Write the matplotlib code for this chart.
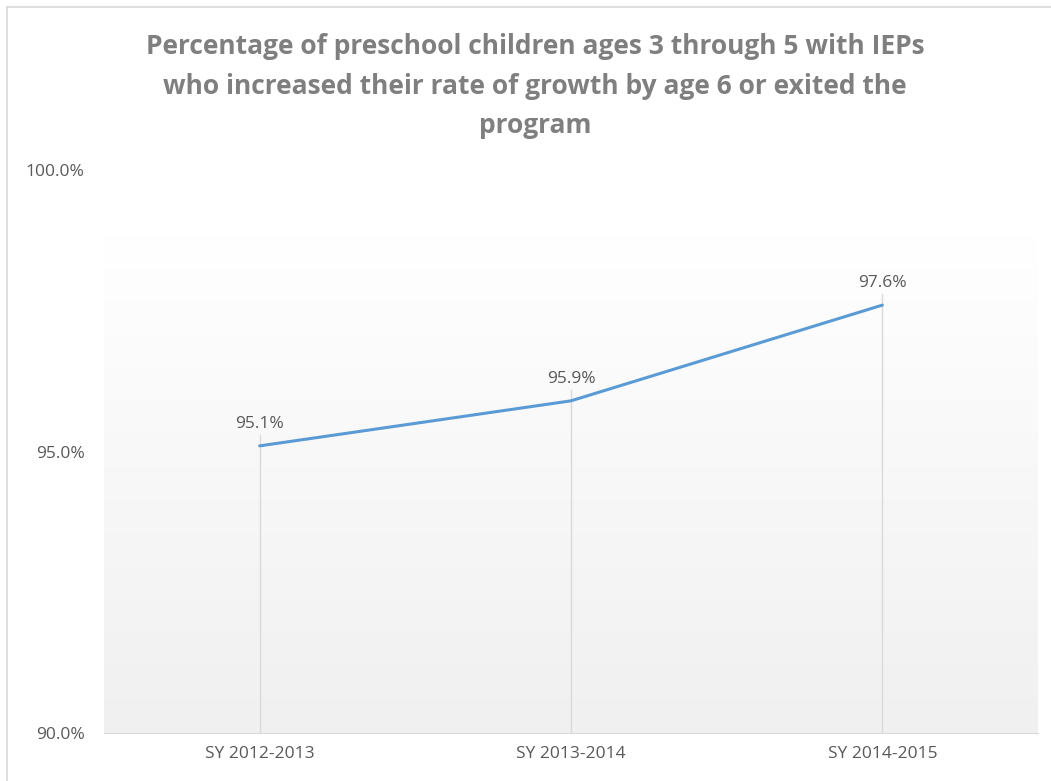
import numpy as np
import matplotlib
matplotlib.use("Agg")
import matplotlib.pyplot as plt
from matplotlib.ticker import FuncFormatter

years = ["SY 2012-2013", "SY 2013-2014", "SY 2014-2015"]
pct = [95.1, 95.9, 97.6]
yticks = [90.0, 95.0, 100.0]

title = ("Percentage of preschool children ages 3 through 5 with IEPs\n"
         "who increased their rate of growth by age 6 or exited the\n"
         "program")

plt.rcParams['font.family'] = ['Open Sans', 'DejaVu Sans']

fig = plt.figure(figsize=(10.51, 7.81), dpi=100)
ax = fig.add_axes([104/1051, 48/781, 934/1051, 563/781])

x = np.arange(len(years))
ax.set_xlim(-0.5, len(years) - 0.5)
ax.set_ylim(90, 100)

# gradient plot area (white at top -> light gray at bottom)
grad = np.linspace(1.0, 0.0, 256).reshape(-1, 1)
top_c = np.array([1.0, 1.0, 1.0])
bot_c = np.array([0xf0, 0xf0, 0xf0]) / 255
img = top_c * (1 - grad[..., None]) + bot_c * grad[..., None]
img = img[::-1]
ax.imshow(img, extent=[-0.5, len(years) - 0.5, 90, 98.85], aspect='auto',
          origin='upper', zorder=0)

# drop lines
for xi, v in zip(x, pct):
    ax.plot([xi, xi], [90, v + 0.2], color='#d9d9d9', lw=1, zorder=1)

ax.plot(x, pct, color='#5b9bd5', lw=2.2, zorder=3, solid_capstyle='round')

for xi, v in zip(x, pct):
    ax.annotate(f"{v:.1f}%", (xi, v), xytext=(0, 10), textcoords='offset points',
                ha='center', va='bottom', fontsize=12.5, color='#595959')

ax.set_xticks(x)
ax.set_xticklabels(years)
ax.set_yticks(yticks)
ax.yaxis.set_major_formatter(FuncFormatter(lambda v, p: f"{v:.1f}%"))
ax.tick_params(axis='both', length=0, labelsize=12.5, labelcolor='#595959')
ax.tick_params(axis='y', pad=14)
ax.tick_params(axis='x', pad=9)

for s in ['top', 'right', 'left']:
    ax.spines[s].set_visible(False)
ax.spines['bottom'].set_color('#d9d9d9')

fig.text(535/1051, 1 - 86/781, title, ha='center', va='center', fontsize=19,
         fontweight='bold', color='#7f7f7f', linespacing=1.58)

# chart border
fig.add_artist(plt.Line2D([7/1051, 7/1051], [0, 1 - 7/781], color='#d9d9d9', lw=1.2))
fig.add_artist(plt.Line2D([7/1051, 1], [1 - 7/781, 1 - 7/781], color='#d9d9d9', lw=1.2))

fig.savefig("out.png", dpi=100)
